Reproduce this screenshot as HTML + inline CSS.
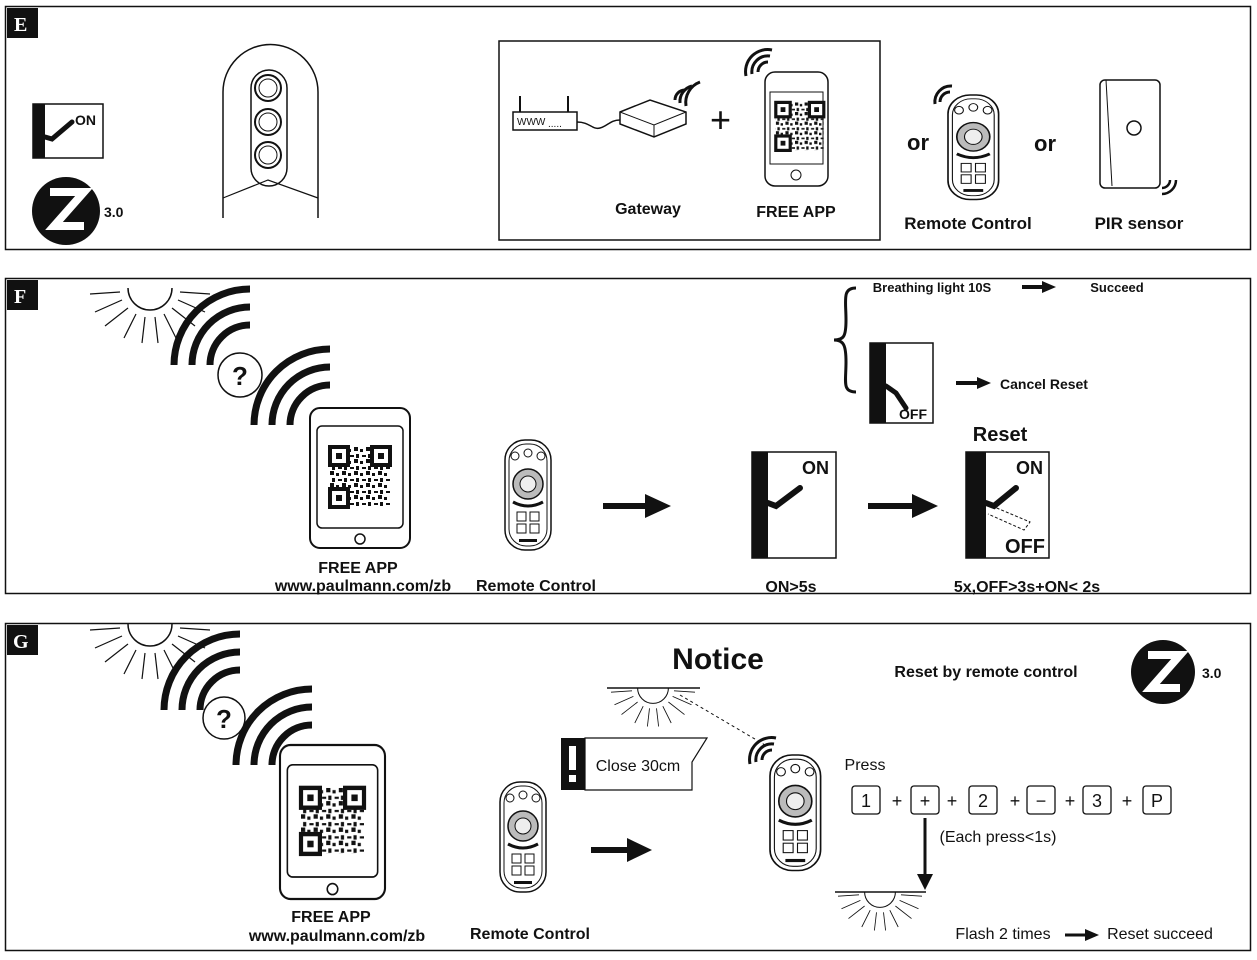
<!DOCTYPE html>
<html><head><meta charset="utf-8"><style>
html,body{margin:0;padding:0;background:#fff;width:1257px;height:960px;overflow:hidden}
svg{display:block}
text{font-family:"Liberation Sans",sans-serif;fill:#111}
</style></head><body>
<svg width="1257" height="960" viewBox="0 0 1257 960" xmlns="http://www.w3.org/2000/svg">
<defs>
 <pattern id="qr" width="12" height="12" patternUnits="userSpaceOnUse">
  <rect x="0" y="0" width="4" height="4" fill="#111"/><rect x="6" y="2" width="3" height="3" fill="#111"/>
  <rect x="2" y="7" width="3" height="4" fill="#111"/><rect x="8" y="8" width="4" height="2" fill="#111"/>
 </pattern>
 <g id="qrc">
  <rect x="0" y="0" width="60" height="60" fill="url(#qr)"/>
  <rect x="0" y="0" width="18" height="18" fill="#fff" stroke="#111" stroke-width="4"/><rect x="6" y="6" width="6" height="6" fill="#111"/>
  <rect x="42" y="0" width="18" height="18" fill="#fff" stroke="#111" stroke-width="4"/><rect x="48" y="6" width="6" height="6" fill="#111"/>
  <rect x="0" y="42" width="18" height="18" fill="#fff" stroke="#111" stroke-width="4"/><rect x="6" y="48" width="6" height="6" fill="#111"/>
 </g>
 <g id="remote">
  <rect x="0" y="0" width="46" height="110" rx="20" fill="#fff" stroke="#111" stroke-width="1.5"/>
  <rect x="4" y="4" width="38" height="102" rx="17" fill="none" stroke="#111" stroke-width="1"/>
  <circle cx="10" cy="16" r="4" fill="none" stroke="#111"/><circle cx="23" cy="13" r="4" fill="none" stroke="#111"/><circle cx="36" cy="16" r="4" fill="none" stroke="#111"/>
  <circle cx="23" cy="44" r="15" fill="#bbb" stroke="#111" stroke-width="1.5"/><circle cx="23" cy="44" r="8" fill="#eee" stroke="#111"/>
  <path d="M8 62 Q23 70 38 62" fill="none" stroke="#111" stroke-width="3"/>
  <rect x="12" y="72" width="9" height="9" fill="none" stroke="#111"/><rect x="25" y="72" width="9" height="9" fill="none" stroke="#111"/>
  <rect x="12" y="84" width="9" height="9" fill="none" stroke="#111"/><rect x="25" y="84" width="9" height="9" fill="none" stroke="#111"/>
  <rect x="14" y="99" width="18" height="3" fill="#111"/>
 </g>
 <g id="tablet">
  <rect x="0" y="0" width="100" height="140" rx="10" fill="#fff" stroke="#111" stroke-width="2"/>
  <rect x="7" y="18" width="86" height="102" rx="5" fill="none" stroke="#111" stroke-width="1.5"/>
  <circle cx="50" cy="131" r="5" fill="none" stroke="#111" stroke-width="1.5"/>
  <use href="#qrc" x="20" y="39"/>
 </g>
 <g id="sun">
  <path d="M-22 0 A22 22 0 0 0 22 0" fill="none" stroke="#111" stroke-width="1.5"/>
  <g stroke="#111" stroke-width="1.2">
   <line x1="-30" y1="4" x2="-60" y2="6"/><line x1="-28" y1="12" x2="-55" y2="24"/><line x1="-22" y1="20" x2="-45" y2="38"/>
   <line x1="-14" y1="26" x2="-26" y2="50"/><line x1="-5" y1="29" x2="-8" y2="55"/><line x1="5" y1="29" x2="8" y2="55"/>
   <line x1="14" y1="26" x2="26" y2="50"/><line x1="22" y1="20" x2="45" y2="38"/><line x1="28" y1="12" x2="55" y2="24"/><line x1="30" y1="4" x2="60" y2="6"/>
  </g>
 </g>
 <g id="waves"><g fill="none" stroke="#111" stroke-width="7">
  <path d="M0 0 A40 40 0 0 1 40 -40"/><path d="M-18 0 A58 58 0 0 1 40 -58"/><path d="M-36 0 A76 76 0 0 1 40 -76"/></g></g>
 <marker id="ah" markerWidth="6" markerHeight="6" refX="3" refY="3" orient="auto"><path d="M0 0 L6 3 L0 6z" fill="#111"/></marker>
</defs>

<!-- PANEL E -->
<rect x="5.5" y="6.5" width="1245" height="243" fill="none" stroke="#111" stroke-width="1.5"/>
<rect x="7" y="8" width="31" height="30" fill="#111"/><text x="14" y="31" font-size="20" font-weight="bold" style="fill:#fff;font-family:'Liberation Serif',serif">E</text>
<rect x="33" y="104" width="70" height="54" fill="#fff" stroke="#111" stroke-width="1.5"/>
<rect x="33" y="104" width="12" height="54" fill="#111"/>
<path d="M45 137 L52 139 L72 122" stroke="#111" stroke-width="5" fill="none" stroke-linecap="round"/>
<text x="75" y="125" font-size="14" font-weight="bold">ON</text>
<circle cx="66" cy="211" r="34" fill="#111"/>
<path d="M50 192 H84 L54 226 H84" stroke="#fff" stroke-width="8" fill="none"/>
<text x="104" y="217" font-size="14" font-weight="bold">3.0</text>
<path d="M223 218 V92 A47 47 0 0 1 318 92 V218" fill="none" stroke="#111" stroke-width="1.5"/>
<path d="M223 198 L268 180 L318 198" fill="none" stroke="#111" stroke-width="1.2"/>
<rect x="251" y="70" width="36" height="116" rx="18" fill="none" stroke="#111" stroke-width="1.5"/>
<g fill="#fff" stroke="#111" stroke-width="2"><circle cx="268" cy="88" r="13"/><circle cx="268" cy="122" r="13"/><circle cx="268" cy="155" r="13"/></g>
<g fill="none" stroke="#111" stroke-width="1"><circle cx="268" cy="88" r="9"/><circle cx="268" cy="122" r="9"/><circle cx="268" cy="155" r="9"/></g>
<rect x="499" y="41" width="381" height="199" fill="none" stroke="#111" stroke-width="1.5"/>
<rect x="513" y="112" width="64" height="18" fill="#fff" stroke="#111" stroke-width="1.5"/>
<line x1="520" y1="112" x2="520" y2="96" stroke="#111" stroke-width="2"/><line x1="568" y1="112" x2="568" y2="96" stroke="#111" stroke-width="2"/>
<text x="517" y="125" font-size="10">WWW</text><text x="548" y="127" font-size="10">.....</text>
<path d="M577 122 C590 122 592 130 600 128 C608 126 610 120 620 120" fill="none" stroke="#111" stroke-width="1.5"/>
<path d="M620 112 L650 100 L686 112 L686 124 L654 137 L620 124 Z" fill="#fff" stroke="#111" stroke-width="1.5"/>
<path d="M620 112 L654 125 L686 112 M654 125 V137" fill="none" stroke="#111"/>
<g fill="none" stroke="#111" stroke-width="3"><path d="M675 100 A10 10 0 0 1 685 90"/><path d="M680 103 A16 16 0 0 1 692 86"/><path d="M686 106 A22 22 0 0 1 700 82"/></g>
<text x="710" y="132" font-size="36">+</text>
<rect x="765" y="72" width="63" height="114" rx="10" fill="#fff" stroke="#111" stroke-width="1.5"/>
<rect x="770" y="92" width="53" height="72" fill="none" stroke="#111"/>
<circle cx="796" cy="175" r="5" fill="none" stroke="#111"/>
<use href="#qrc" x="776" y="103" transform="translate(155 20) scale(0.8)"/>
<g fill="none" stroke="#111" stroke-width="3"><path d="M758 72 A10 10 0 0 1 768 62"/><path d="M752 74 A16 16 0 0 1 770 56"/><path d="M746 76 A22 22 0 0 1 772 50"/></g>
<text x="648" y="214" font-size="16" font-weight="bold" text-anchor="middle">Gateway</text>
<text x="796" y="217" font-size="16" font-weight="bold" text-anchor="middle">FREE  APP</text>
<text x="918" y="150" font-size="22" font-weight="bold" text-anchor="middle">or</text>
<use href="#remote" transform="translate(948 95) scale(1.1 0.95)"/>
<g fill="none" stroke="#111" stroke-width="3"><path d="M940 102 A10 10 0 0 1 950 92"/><path d="M935 104 A16 16 0 0 1 952 86"/></g>
<text x="1045" y="151" font-size="22" font-weight="bold" text-anchor="middle">or</text>
<rect x="1100" y="80" width="60" height="108" rx="5" fill="#fff" stroke="#111" stroke-width="1.5"/>
<path d="M1106 80 L1112 186" stroke="#111"/>
<circle cx="1134" cy="128" r="7" fill="none" stroke="#111" stroke-width="1.5"/>
<g fill="none" stroke="#111" stroke-width="2.5"><path d="M1162 188 A8 8 0 0 0 1170 180"/><path d="M1162 194 A14 14 0 0 0 1176 180"/></g>
<text x="968" y="229" font-size="17" font-weight="bold" text-anchor="middle">Remote Control</text>
<text x="1139" y="229" font-size="17" font-weight="bold" text-anchor="middle">PIR sensor</text>

<!-- PANEL F -->
<rect x="5.5" y="278.5" width="1245" height="315" fill="none" stroke="#111" stroke-width="1.5"/>
<rect x="7" y="280" width="31" height="30" fill="#111"/><text x="14" y="303" font-size="20" font-weight="bold" style="fill:#fff;font-family:'Liberation Serif',serif">F</text>
<use href="#sun" x="150" y="288"/>
<use href="#waves" x="210" y="365" transform="rotate(0)"/>
<circle cx="240" cy="375" r="22" fill="#fff" stroke="#111" stroke-width="1.5"/><text x="240" y="385" font-size="26" font-weight="bold" text-anchor="middle">?</text>
<use href="#waves" x="290" y="425"/>
<use href="#tablet" x="310" y="408"/>
<text x="358" y="573" font-size="16" font-weight="bold" text-anchor="middle">FREE APP</text>
<text x="363" y="591" font-size="16" font-weight="bold" text-anchor="middle">www.paulmann.com/zb</text>
<use href="#remote" x="505" y="440"/>
<text x="536" y="591" font-size="16" font-weight="bold" text-anchor="middle">Remote Control</text>
<path d="M603 506 H648" stroke="#111" stroke-width="6"/><path d="M645 494 L671 506 L645 518Z" fill="#111"/>
<rect x="752" y="452" width="84" height="106" fill="#fff" stroke="#111" stroke-width="1.5"/><rect x="752" y="452" width="16" height="106" fill="#111"/>
<path d="M768 503 L776 506 L800 488" stroke="#111" stroke-width="6" fill="none" stroke-linecap="round"/>
<text x="802" y="474" font-size="18" font-weight="bold">ON</text>
<text x="791" y="592" font-size="16" font-weight="bold" text-anchor="middle">ON&gt;5s</text>
<path d="M868 506 H915" stroke="#111" stroke-width="6"/><path d="M912 494 L938 506 L912 518Z" fill="#111"/>
<text x="1000" y="441" font-size="20" font-weight="bold" text-anchor="middle">Reset</text>
<rect x="966" y="452" width="83" height="106" fill="#fff" stroke="#111" stroke-width="1.5"/><rect x="966" y="452" width="20" height="106" fill="#111"/>
<path d="M986 503 L994 506 L1016 488" stroke="#111" stroke-width="6" fill="none" stroke-linecap="round"/>
<path d="M992 506 L1030 522 L1024 530 L988 514" fill="none" stroke="#111" stroke-dasharray="3 2"/>
<text x="1016" y="474" font-size="18" font-weight="bold">ON</text>
<text x="1005" y="553" font-size="20" font-weight="bold">OFF</text>
<text x="1027" y="592" font-size="16" font-weight="bold" text-anchor="middle">5x,OFF&gt;3s+ON&lt; 2s</text>
<path d="M856 288 C842 288 846 300 846 320 C846 336 844 340 834 340 C844 340 846 346 846 362 C846 382 842 392 856 392" fill="none" stroke="#111" stroke-width="3"/>
<text x="932" y="292" font-size="13" font-weight="bold" text-anchor="middle">Breathing light 10S</text>
<path d="M1022 287 H1045" stroke="#111" stroke-width="4"/><path d="M1042 281 L1056 287 L1042 293Z" fill="#111"/>
<text x="1117" y="292" font-size="13" font-weight="bold" text-anchor="middle">Succeed</text>
<rect x="870" y="343" width="63" height="80" fill="#fff" stroke="#111" stroke-width="1.5"/><rect x="870" y="343" width="16" height="80" fill="#111"/>
<path d="M886 386 L896 393 L906 408" stroke="#111" stroke-width="5" fill="none" stroke-linecap="round"/>
<text x="899" y="419" font-size="14" font-weight="bold">OFF</text>
<path d="M956 383 H980" stroke="#111" stroke-width="4"/><path d="M977 377 L991 383 L977 389Z" fill="#111"/>
<text x="1044" y="389" font-size="14" font-weight="bold" text-anchor="middle">Cancel Reset</text>

<!-- PANEL G -->
<rect x="5.5" y="623.5" width="1245" height="327" fill="none" stroke="#111" stroke-width="1.5"/>
<rect x="7" y="625" width="31" height="30" fill="#111"/><text x="13" y="648" font-size="20" font-weight="bold" style="fill:#fff;font-family:'Liberation Serif',serif">G</text>
<use href="#sun" x="150" y="624"/>
<use href="#waves" x="200" y="710"/>
<circle cx="224" cy="718" r="21" fill="#fff" stroke="#111" stroke-width="1.5"/><text x="224" y="728" font-size="26" font-weight="bold" text-anchor="middle">?</text>
<use href="#waves" x="272" y="765"/>
<use href="#tablet" transform="translate(280 745) scale(1.05 1.1)"/>
<text x="331" y="922" font-size="16" font-weight="bold" text-anchor="middle">FREE APP</text>
<text x="337" y="941" font-size="16" font-weight="bold" text-anchor="middle">www.paulmann.com/zb</text>
<use href="#remote" x="500" y="782"/>
<text x="530" y="939" font-size="16" font-weight="bold" text-anchor="middle">Remote Control</text>
<path d="M591 850 H630" stroke="#111" stroke-width="6"/><path d="M627 838 L652 850 L627 862Z" fill="#111"/>
<rect x="561" y="738" width="24" height="52" fill="#111"/>
<rect x="569" y="746" width="7" height="24" fill="#fff"/><rect x="569" y="775" width="7" height="7" fill="#fff"/>
<path d="M585 738 H692 L707 738 L692 762 V790 H585 Z" fill="#fff" stroke="#111" stroke-width="1.2"/>
<text x="638" y="771" font-size="16" text-anchor="middle">Close 30cm</text>
<text x="718" y="669" font-size="30" font-weight="bold" text-anchor="middle">Notice</text>
<line x1="607" y1="688" x2="700" y2="688" stroke="#111" stroke-width="1.5"/>
<use href="#sun" transform="translate(653 688) scale(0.7)"/>
<line x1="680" y1="695" x2="765" y2="745" stroke="#111" stroke-dasharray="3 3"/>
<use href="#remote" transform="translate(770 755) scale(1.1 1.05)"/>
<g fill="none" stroke="#111" stroke-width="3"><path d="M762 760 A10 10 0 0 1 772 750"/><path d="M756 762 A16 16 0 0 1 774 744"/><path d="M750 764 A22 22 0 0 1 776 738"/></g>
<text x="986" y="677" font-size="16" font-weight="bold" text-anchor="middle">Reset by remote control</text>
<circle cx="1163" cy="672" r="32" fill="#111"/>
<path d="M1148 655 H1180 L1151 688 H1180" stroke="#fff" stroke-width="8" fill="none"/>
<text x="1202" y="678" font-size="14" font-weight="bold">3.0</text>
<text x="865" y="770" font-size="16" text-anchor="middle">Press</text>
<g fill="#fff" stroke="#111" stroke-width="1.3" font-size="16">
 <rect x="852" y="786" width="28" height="28" rx="3"/><rect x="911" y="786" width="28" height="28" rx="3"/>
 <rect x="969" y="786" width="28" height="28" rx="3"/><rect x="1027" y="786" width="28" height="28" rx="3"/>
 <rect x="1083" y="786" width="28" height="28" rx="3"/><rect x="1143" y="786" width="28" height="28" rx="3"/>
</g>
<g font-size="18" text-anchor="middle">
 <text x="866" y="807">1</text><text x="925" y="807">+</text><text x="983" y="807">2</text><text x="1041" y="807">−</text><text x="1097" y="807">3</text><text x="1157" y="807">P</text>
 <text x="897" y="807">+</text><text x="952" y="807">+</text><text x="1015" y="807">+</text><text x="1070" y="807">+</text><text x="1127" y="807">+</text>
</g>
<text x="998" y="842" font-size="16" text-anchor="middle">(Each press&lt;1s)</text>
<line x1="925" y1="818" x2="925" y2="876" stroke="#111" stroke-width="3"/><path d="M917 874 L925 890 L933 874Z" fill="#111"/>
<line x1="835" y1="892" x2="926" y2="892" stroke="#111" stroke-width="1.5"/>
<use href="#sun" transform="translate(880 892) scale(0.7)"/>
<text x="1003" y="939" font-size="16" text-anchor="middle">Flash 2 times</text>
<path d="M1065 935 H1088" stroke="#111" stroke-width="3"/><path d="M1085 929 L1099 935 L1085 941Z" fill="#111"/>
<text x="1160" y="939" font-size="16" text-anchor="middle">Reset succeed</text>
</svg>
</body></html>
